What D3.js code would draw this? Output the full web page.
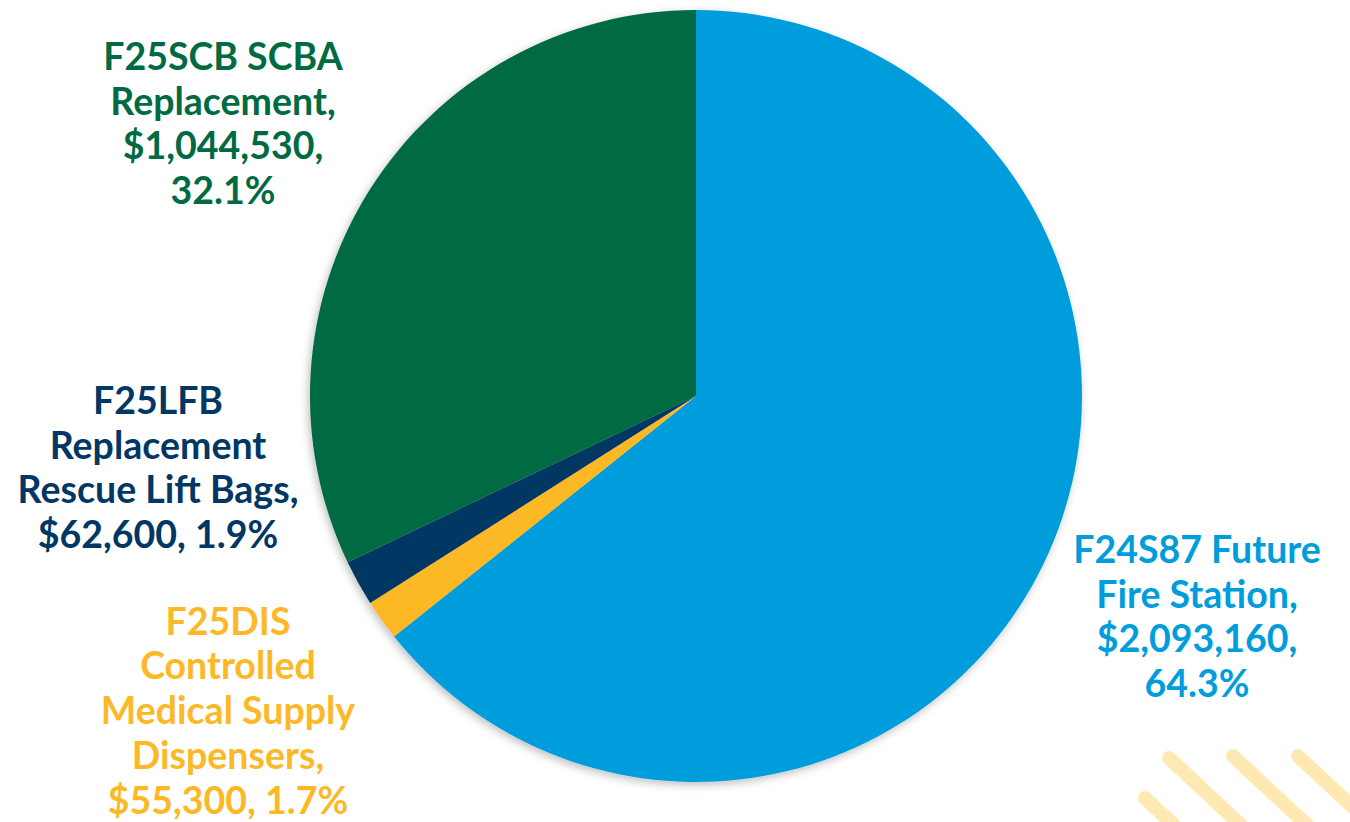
<!DOCTYPE html>
<html>
<head>
<meta charset="utf-8">
<script src="https://cdn.jsdelivr.net/npm/d3@7"></script>
<style>
  html, body { margin: 0; padding: 0; background: #ffffff; }
  svg { display: block; font-family: Lato, "Open Sans", sans-serif; }
</style>
</head>
<body>
<svg id="chart" width="1350" height="822"></svg>
<script>
// Project budget split
const projectCodes = ["F24S87", "F25DIS", "F25LFB", "F25SCB"];
const projectNames = [
  "Future Fire Station",
  "Controlled Medical Supply Dispensers",
  "Replacement Rescue Lift Bags",
  "SCBA Replacement"
];
const amounts = [2093160, 55300, 62600, 1044530];
const sliceColors = ["#009ddc", "#fdb827", "#003764", "#006a43"];

// Line breaks for each label: text pieces joined on one row
const labelRows = [
  [["code", "Future"], ["Fire Station,"], ["amount"], ["pct"]],
  [["code"], ["Controlled"], ["Medical Supply"], ["Dispensers,"], ["amount", "pct"]],
  [["code"], ["Replacement"], ["Rescue Lift Bags,"], ["amount", "pct"]],
  [["code", "SCBA"], ["Replacement,"], ["amount"], ["pct"]]
];
// Centre of each label block (layout)
const labelCenters = [[1197, 617], [228, 711], [158, 468], [223, 124]];

const svg = d3.select("#chart");
const cx = 696, cy = 396, radius = 386;

const defs = svg.append("defs");
const shadow = defs.append("filter").attr("id", "pieShadow")
  .attr("x", "-10%").attr("y", "-10%").attr("width", "120%").attr("height", "120%");
shadow.append("feDropShadow").attr("dx", -2).attr("dy", 3).attr("stdDeviation", 4)
  .attr("flood-color", "#000").attr("flood-opacity", 0.25);

// Decorative stripes, bottom right
const stripes = [[1145, 798], [1169, 758], [1233, 756], [1298, 756]];
svg.append("g").selectAll("line").data(stripes).join("line")
  .attr("x1", d => d[0]).attr("y1", d => d[1])
  .attr("x2", d => d[0] + 120).attr("y2", d => d[1] + 112)
  .attr("stroke", "#ffe9b3").attr("stroke-width", 14).attr("stroke-linecap", "round");

const total = d3.sum(amounts);
const pie = d3.pie().sort(null).value(d => d)
  .startAngle(0).endAngle(2 * Math.PI);
const arcs = pie(amounts);
const arc = d3.arc().innerRadius(0).outerRadius(radius);

const g = svg.append("g").attr("transform", `translate(${cx},${cy})`)
  .attr("filter", "url(#pieShadow)");
g.selectAll("path").data(arcs).join("path")
  .attr("d", arc)
  .attr("fill", (d, i) => sliceColors[i]);

const fmtMoney = d3.format("$,");
const fmtPct = v => (v * 100).toFixed(1) + "%";

const lineH = 44.7;
amounts.forEach((v, i) => {
  const parts = {
    code: projectCodes[i],
    amount: fmtMoney(v) + ",",
    pct: fmtPct(v / total)
  };
  const rows = labelRows[i].map(row => row.map(p => parts[p] !== undefined ? parts[p] : p).join(" "));
  const [lx, ly] = labelCenters[i];
  const t = svg.append("text")
    .attr("x", lx)
    .attr("text-anchor", "middle")
    .attr("fill", sliceColors[i])
    .attr("font-weight", 700)
    .attr("font-size", 37.5);
  const y0 = ly - (rows.length - 1) * lineH / 2;
  rows.forEach((r, ri) => {
    t.append("tspan").attr("x", lx).attr("y", y0 + ri * lineH)
      .attr("dy", "0.35em").text(r);
  });
});
</script>
</body>
</html>
